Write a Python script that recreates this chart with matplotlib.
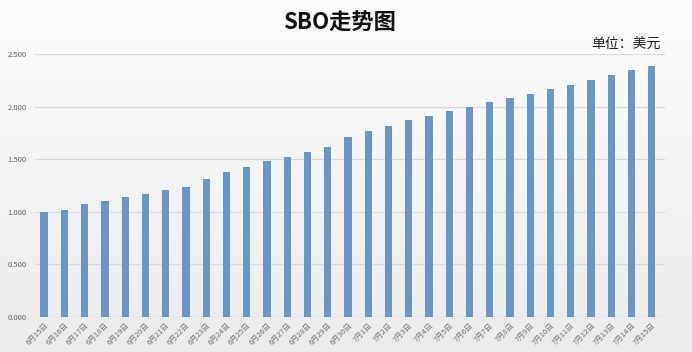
import matplotlib
matplotlib.use("Agg")
import matplotlib.pyplot as plt
import numpy as np
from matplotlib.colors import LinearSegmentedColormap

plt.rcParams['font.family'] = ['Noto Sans CJK SC', 'DejaVu Sans']

dates = ["6月15日", "6月16日", "6月17日", "6月18日", "6月19日", "6月20日", "6月21日",
         "6月22日", "6月23日", "6月24日", "6月25日", "6月26日", "6月27日", "6月28日",
         "6月29日", "6月30日", "7月1日", "7月2日", "7月3日", "7月4日", "7月5日",
         "7月6日", "7月7日", "7月8日", "7月9日", "7月10日", "7月11日", "7月12日",
         "7月13日", "7月14日", "7月15日"]
prices = [1.00, 1.02, 1.07, 1.10, 1.14, 1.17, 1.21, 1.24, 1.31, 1.38, 1.43, 1.48,
          1.52, 1.57, 1.62, 1.71, 1.77, 1.82, 1.87, 1.91, 1.96, 2.00, 2.04, 2.08,
          2.12, 2.17, 2.21, 2.25, 2.30, 2.35, 2.39]
yticks = [0.0, 0.5, 1.0, 1.5, 2.0, 2.5]

fig = plt.figure(figsize=(6.92, 3.52), dpi=100)

# background gradient
bg = fig.add_axes([0, 0, 1, 1], zorder=-10)
grad = np.linspace(1.0, 0.0, 256).reshape(-1, 1)
cmap = LinearSegmentedColormap.from_list("bg", ["#ebebeb", "#fdfdfd"])
bg.imshow(grad, aspect='auto', cmap=cmap, extent=[0, 1, 0, 1], origin='upper')
bg.axis('off')

ax = fig.add_axes([0.0506, 0.0994, 0.9104, 0.7472])
ax.patch.set_alpha(0)
x = np.arange(len(dates))
ax.bar(x, prices, width=0.36, color="#6a95c9", zorder=3)
ax.set_xlim(-0.45, 30.65)
ax.set_ylim(0, 2.5)
ax.set_yticks(yticks)
ax.set_yticklabels([f"{v:.3f}" for v in yticks], fontsize=5.5, color="#606060")
ax.yaxis.grid(True, color="#d9d9d9", linewidth=0.9, zorder=0)
ax.set_xticks(x)
ax.set_xticklabels(dates, rotation=45, ha='right', rotation_mode='anchor',
                   fontsize=5.5, color="#707070")
ax.tick_params(axis='both', length=0, pad=3)
ax.tick_params(axis='y', pad=6)
for s in ax.spines.values():
    s.set_visible(False)
ax.axhline(0, color="#d0d0d0", linewidth=0.9, zorder=2)

fig.text(0.49, 0.935, "SBO走势图", ha='center', va='center', fontsize=16,
         fontweight='heavy', color="#111111")
fig.text(0.955, 0.872, "单位：美元", ha='right', va='center', fontsize=10,
         color="#222222")

fig.savefig("out.png", dpi=100)
